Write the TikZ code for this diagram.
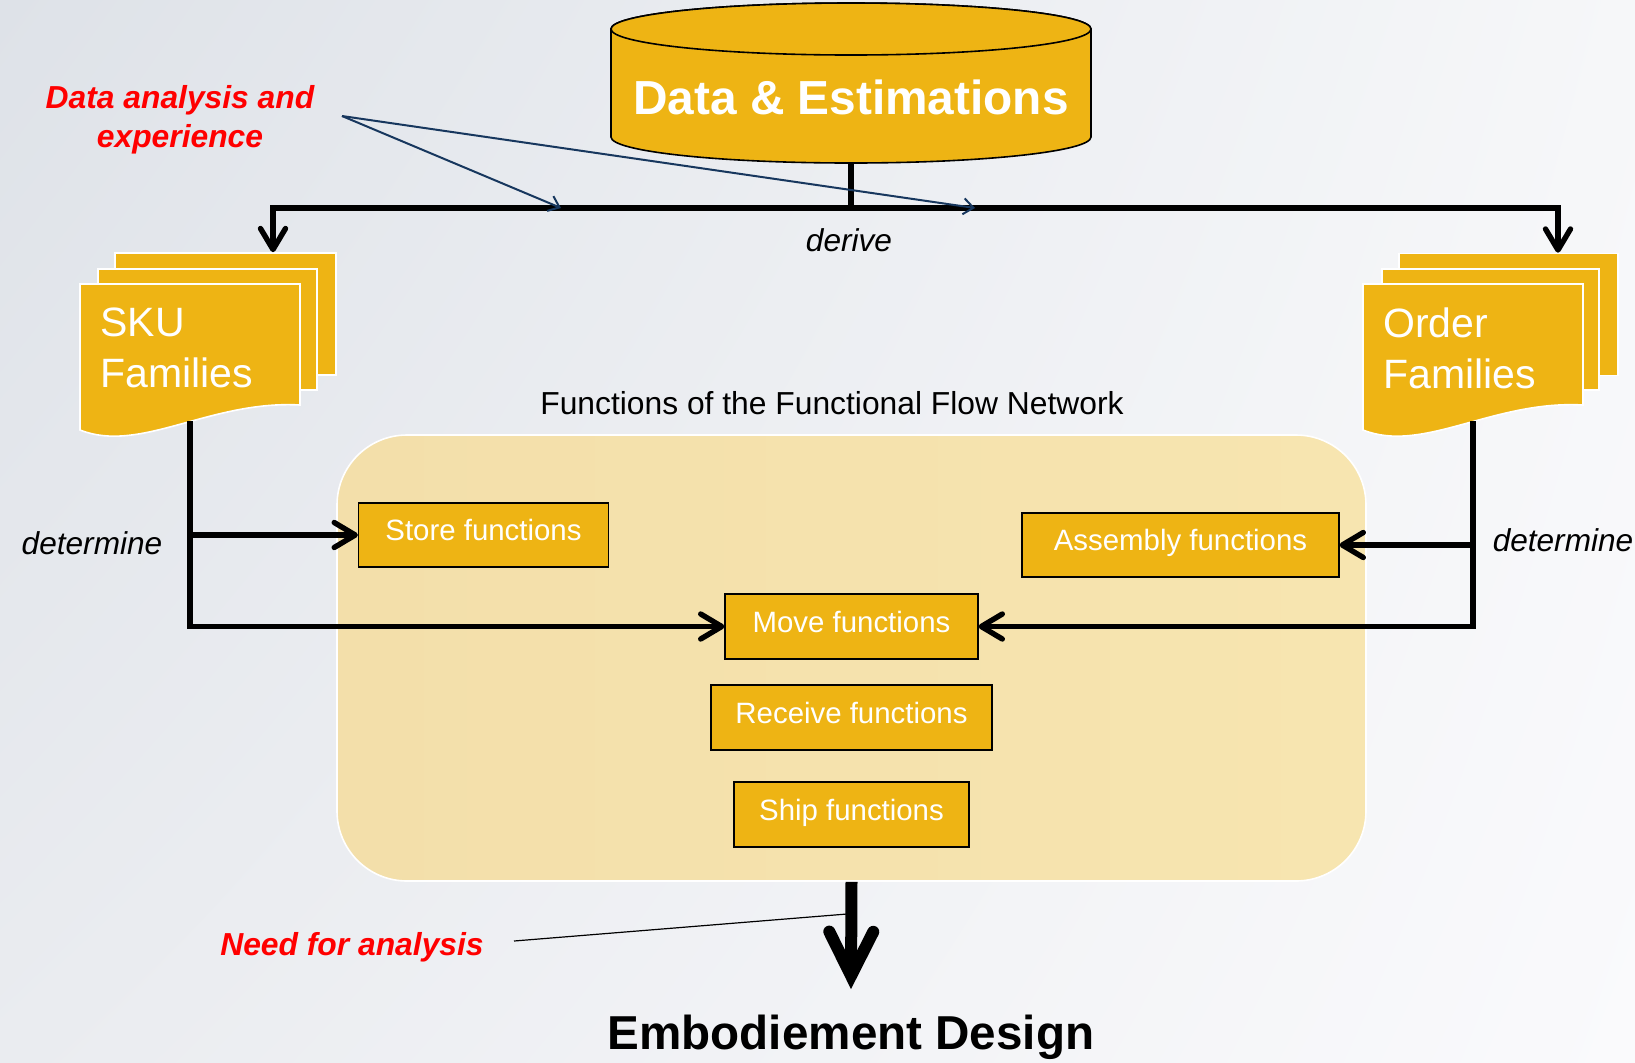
\documentclass[tikz,border=0pt]{standalone}
\usepackage{fontspec}
\setmainfont{Liberation Sans}
\usetikzlibrary{arrows.meta,shadings}
\definecolor{gold}{RGB}{238,180,20}
\definecolor{netL}{RGB}{243,223,170}
\definecolor{netR}{RGB}{247,229,176}
\definecolor{navy}{RGB}{23,55,94}
\definecolor{bgUL}{RGB}{222,226,232}
\definecolor{bgUR}{RGB}{246,247,249}
\definecolor{bgLL}{RGB}{234,236,240}
\definecolor{bgLR}{RGB}{250,250,252}
\tikzset{
  func/.style={draw=black, line width=0.6pt, fill=gold, text=white,
    font=\fontsize{14.7}{17}\selectfont, inner sep=0pt, minimum height=32pt,
    text height=10.6pt, text depth=5pt},
  page/.style={fill=gold, draw=white, line width=0.8pt, inner sep=0pt},
  doctext/.style={text=white, font=\fontsize{20.5}{25.5}\selectfont, align=left, inner sep=0pt, anchor=west},
  flow/.style={line width=2.7pt, -{Straight Barb[length=10.5pt,width=12.5pt,round]}},
  plainline/.style={line width=2.7pt},
  pointer/.style={draw=navy, line width=1pt, -{Straight Barb[length=5pt,width=8pt]}},
  lab/.style={font=\fontsize{15.8}{19}\selectfont\itshape, inner sep=0pt, anchor=base},
  redlab/.style={text=red, font=\fontsize{15.9}{19.3}\selectfont\bfseries\itshape, inner sep=0pt, align=center},
  bigarrow/.style={line width=6pt, -{Straight Barb[length=22pt,width=22pt,line cap=round]}}
}
\begin{document}
\begin{tikzpicture}[x=0.5pt,y=0.5pt]
\useasboundingbox (0,0) rectangle (1635,-1062);
\shade[upper left=bgUL, upper right=bgUR, lower left=bgLL, lower right=bgLR] (0,0) rectangle (1635,-1062);

% container
\node[left color=netL, right color=netR, draw=white, line width=0.8pt, rounded corners=35pt,
      minimum width=514.5pt, minimum height=223pt, inner sep=0pt] (net) at (851.5,-658) {};
\node[font=\fontsize{15.9}{19}\selectfont, inner sep=0pt, anchor=base] (title) at (832,-414) {Functions of the Functional Flow Network};

% cylinder
\path[fill=gold, draw=black, line width=0.8pt] (611,-29) -- (611,-137)
  arc[start angle=180, end angle=360, x radius=120pt, y radius=13pt] -- (1091,-29)
  arc[start angle=0, end angle=180, x radius=120pt, y radius=13pt] -- cycle;
\draw[fill=gold, line width=0.8pt] (851,-29) ellipse[x radius=120pt, y radius=13pt];
\node[text=white, font=\fontsize{23.9}{28}\selectfont\bfseries, inner sep=0pt] (data) at (851,-97) {Data \& Estimations};
\coordinate (cylbot) at (851,-163);

% SKU families
\node[page, minimum width=110.5pt, minimum height=61pt] (skuback) at (225.5,-314) {};
\node[page, minimum width=109.5pt, minimum height=60.5pt] (skumid) at (207.5,-329.5) {};
\path[page] (80,-284) -- (300,-284) -- (300,-405) .. controls (210,-400) and (140,-454) .. (80,-430) -- cycle;
\node[doctext] (sku) at (100,-348) {SKU\\Families};
\coordinate (skubot) at (190,-421);

% Order families
\node[page, minimum width=109.5pt, minimum height=61pt] (ordback) at (1508.5,-314.5) {};
\node[page, minimum width=108.5pt, minimum height=60.5pt] (ordmid) at (1490.5,-329.5) {};
\path[page] (1363,-284) -- (1583,-284) -- (1583,-405) .. controls (1493,-400) and (1423,-454) .. (1363,-430) -- cycle;
\node[doctext] (ord) at (1383,-348) {Order\\Families};
\coordinate (ordbot) at (1473,-421);

% function boxes
\node[func, minimum width=125pt] (store) at (483.5,-535) {Store functions};
\node[func, minimum width=158.5pt] (assembly) at (1180.5,-545) {Assembly functions};
\node[func, minimum width=126.5pt, minimum height=32.5pt] (move) at (851.5,-626.5) {Move functions};
\node[func, minimum width=140.5pt, minimum height=32.5pt] (receive) at (851.5,-717.5) {Receive functions};
\node[func, minimum width=117.5pt, minimum height=32.5pt] (ship) at (851.5,-814.5) {Ship functions};

% derive connectors
\coordinate (j) at (851,-208);
\coordinate (jl) at (273,-208);
\coordinate (jr) at (1558,-208);
\draw[plainline] (cylbot) -- (j);
\draw[flow] (j) -- (jl) -- (jl |- skuback.north);
\draw[flow] (j) -- (jr) -- (jr |- ordback.north);
\node[lab] (derive) at (849,-251) {derive};

% determine connectors
\draw[flow] (skubot) -- (skubot |- move.west) -- (move.west);
\draw[flow] (skubot |- store.west) -- (store.west);
\draw[flow] (ordbot) -- (ordbot |- move.east) -- (move.east);
\draw[flow] (ordbot |- assembly.east) -- (assembly.east);
\node[lab] (detl) at (92,-554.5) {determine};
\node[lab] (detr) at (1563,-551.5) {determine};

% annotation
\node[redlab] (ann) at (180,-120) {Data analysis and\\experience};
\coordinate (annpt) at (342,-116);
\coordinate (p1) at (561,-208);
\coordinate (p2) at (975,-208);
\draw[pointer] (annpt) -- (p1);
\draw[pointer] (annpt) -- (p2);

% bottom
\node[font=\fontsize{23.8}{28}\selectfont\bfseries, inner sep=0pt, anchor=base] (emb) at (851,-1049) {Embodiement Design};
\draw[bigarrow] (net.south) -- ([yshift=12.5pt]emb.north);
\node[redlab, anchor=base] (need) at (352,-955) {Need for analysis};
\coordinate (n1) at (514,-941);
\coordinate (n2) at (847,-914);
\draw[line width=0.6pt] (n1) -- (n2);
\end{tikzpicture}
\end{document}
